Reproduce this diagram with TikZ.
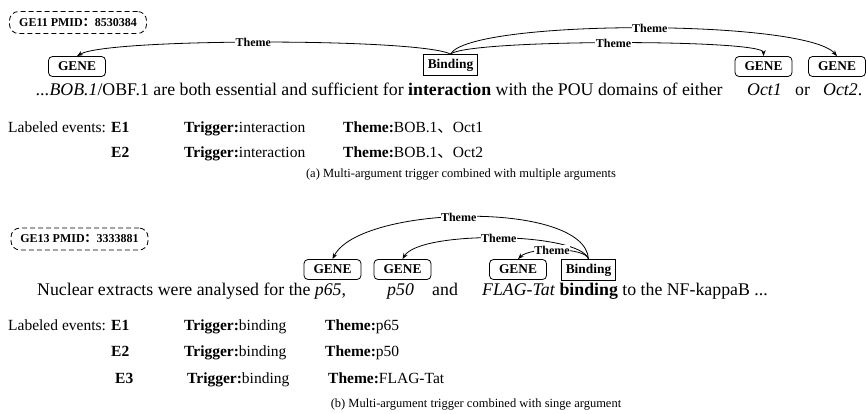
\documentclass[tikz,border=0pt]{standalone}
\usepackage{fontspec}
\setmainfont{Liberation Serif}
\newfontfamily\cjk{Noto Sans CJK SC}
\usetikzlibrary{arrows.meta}
\begin{document}
\begin{tikzpicture}[x=1pt,y=-1pt,
  gene/.style={draw, rounded corners=4pt, font=\fontsize{13.4}{15}\selectfont\bfseries, minimum width=57pt, minimum height=20pt, inner sep=0pt, line width=0.8pt},
  trig/.style={draw, font=\fontsize{13.4}{15}\selectfont\bfseries, minimum width=54pt, minimum height=21pt, inner sep=0pt, line width=0.8pt},
  pmid/.style={draw, dash pattern=on 5pt off 3pt, rounded corners=9pt, font=\fontsize{12}{14}\selectfont\bfseries, minimum height=22pt, minimum width=137pt, inner xsep=8pt, inner ysep=0pt, line width=0.8pt},
  rel/.style={-{Stealth[length=6pt,width=4.5pt]}, line width=0.8pt},
  lab/.style={font=\fontsize{12}{13}\selectfont\bfseries, fill=white, inner sep=0.5pt},
  sent/.style={font=\fontsize{17.8}{20}\selectfont, anchor=base west, inner sep=0pt},
  txt/.style={font=\fontsize{15.5}{18}\selectfont, anchor=base west, inner sep=0pt},
  capt/.style={font=\fontsize{12.5}{14}\selectfont, anchor=base, inner sep=0pt}]
\useasboundingbox (0,0) rectangle (866,413);
% ---------- panel (a)
\node[pmid] (pa) at (78,22.5) {GE11 PMID{\cjk ：}8530384};
\node[gene] (ga1) at (77,66.5) {GENE};
\node[trig] (ba) at (450.5,65) {Binding};
\node[gene] (ga2) at (763.5,66.5) {GENE};
\node[gene] (ga3) at (837,66.5) {GENE};
\draw[rel] (ba.north) .. controls (420,38) and (107,38) .. node[lab,pos=0.52]{Theme} (ga1.north);
\draw[rel] (ba.north) .. controls (468,39) and (763.5,39) .. node[lab,pos=0.5]{Theme} (ga2.north);
\draw[rel] (ba.north) .. controls (470,19) and (805,19) .. node[lab,pos=0.52]{Theme} (ga3.north);
\node[sent] (sa1) at (36,95) {\textit{...BOB.1}/OBF.1 are both essential and sufficient for \textbf{interaction} with the POU domains of either};
\node[sent] (sa2) at (747,95) {\textit{Oct1}};
\node[sent] (sa3) at (795,95) {or};
\node[sent] (sa4) at (823,95) {\textit{Oct2}.};
\node[txt] (la) at (8,132) {Labeled events:};
\node[txt] (ea1) at (111,132) {\textbf{E1}};
\node[txt] (ta1) at (184,132) {\textbf{Trigger:}interaction};
\node[txt] (ha1) at (343,132) {\textbf{Theme:}BOB.1{\cjk 、}Oct1};
\node[txt] (ea2) at (111,157) {\textbf{E2}};
\node[txt] (ta2) at (184,157) {\textbf{Trigger:}interaction};
\node[txt] (ha2) at (343,157) {\textbf{Theme:}BOB.1{\cjk 、}Oct2};
\node[capt] (ca) at (461,177) {(a) Multi-argument trigger combined with multiple arguments};
% ---------- panel (b)
\node[pmid] (pb) at (79.5,239) {GE13 PMID{\cjk ：}3333881};
\node[gene] (gb1) at (332.5,269.5) {GENE};
\node[gene] (gb2) at (402.5,269.5) {GENE};
\node[gene] (gb3) at (518,269.5) {GENE};
\node[trig] (bb) at (588.5,270) {Binding};
\draw[rel] (bb.north) .. controls (585,200) and (360,205) .. node[lab,pos=0.53]{Theme} (gb1.north);
\draw[rel] (bb.north) .. controls (580,232) and (420,230) .. node[lab,pos=0.5]{Theme} (gb2.north);
\draw[rel] (bb.north) .. controls (586,247) and (530,247) .. node[lab,pos=0.55]{Theme} (gb3.north);
\node[sent] (sb1) at (37,295) {Nuclear extracts were analysed for the \textit{p65},};
\node[sent] (sb2) at (387,295) {\textit{p50}};
\node[sent] (sb3) at (432,295) {and};
\node[sent] (sb4) at (482,295) {\textit{FLAG-Tat} \textbf{binding} to the NF-kappaB ...};
\node[txt] (lb) at (8,330) {Labeled events:};
\node[txt] (eb1) at (111,330) {\textbf{E1}};
\node[txt] (tb1) at (184,330) {\textbf{Trigger:}binding};
\node[txt] (hb1) at (325,330) {\textbf{Theme:}p65};
\node[txt] (eb2) at (111,356.5) {\textbf{E2}};
\node[txt] (tb2) at (184,356.5) {\textbf{Trigger:}binding};
\node[txt] (hb2) at (325,356.5) {\textbf{Theme:}p50};
\node[txt] (eb3) at (115,383) {\textbf{E3}};
\node[txt] (tb3) at (187,383) {\textbf{Trigger:}binding};
\node[txt] (hb3) at (328,383) {\textbf{Theme:}FLAG-Tat};
\node[capt] (cb) at (476,407) {(b) Multi-argument trigger combined with singe argument};
\end{tikzpicture}
\end{document}
